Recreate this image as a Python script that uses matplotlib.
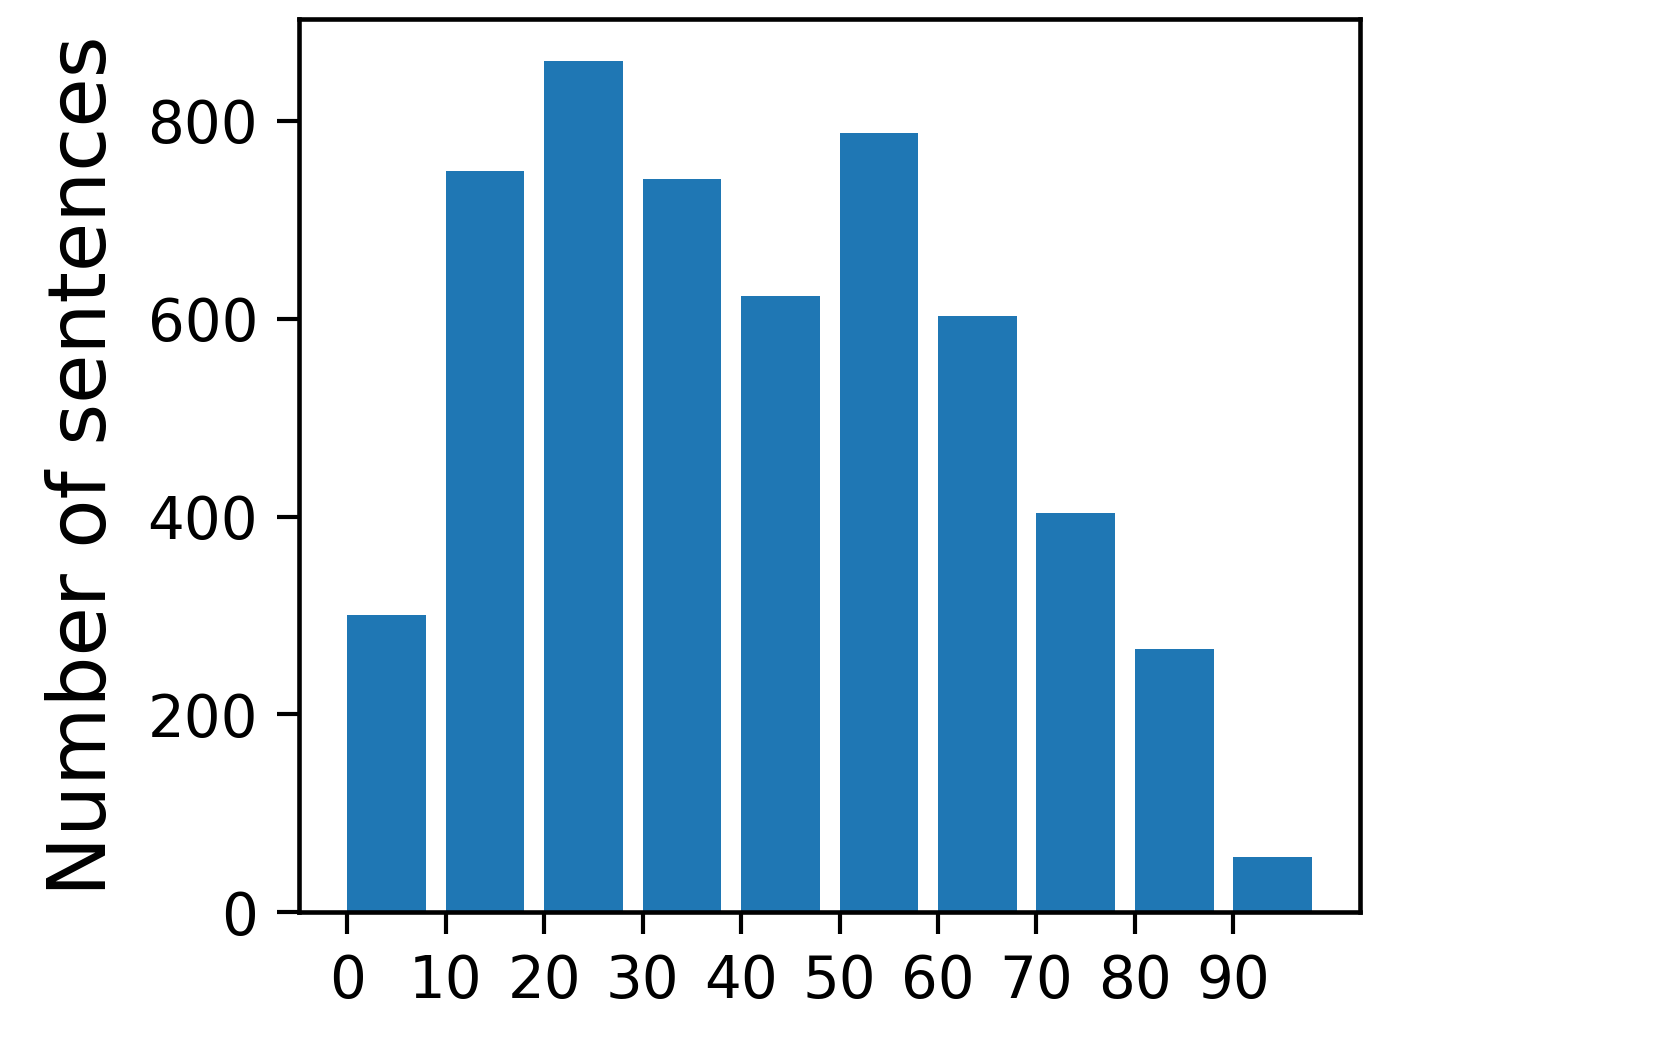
import matplotlib
matplotlib.use('Agg')
import matplotlib.pyplot as plt

# Sentence counts per bin (bin start values)
bin_starts = [0, 10, 20, 30, 40, 50, 60, 70, 80, 90]
counts = [300, 749, 860, 741, 623, 787, 603, 404, 266, 56]
tick_positions = [0, 10, 20, 30, 40, 50, 60, 70, 80, 90]

fig = plt.figure(figsize=(1661 / 300, 1038 / 300), dpi=300)
ax = fig.add_axes([0.180, 0.121, 0.639, 0.861])

ax.bar(bin_starts, counts, width=8, align='edge', color='#1f77b4')

ax.set_xticks(tick_positions)
ax.set_ylabel('Number of sentences', fontsize=19.3, labelpad=6)
ax.tick_params(axis='both', labelsize=13.9, length=5.3, width=1.0, pad=4.5)
for spine in ax.spines.values():
    spine.set_linewidth(1.1)

fig.savefig('out.png', dpi=300)
